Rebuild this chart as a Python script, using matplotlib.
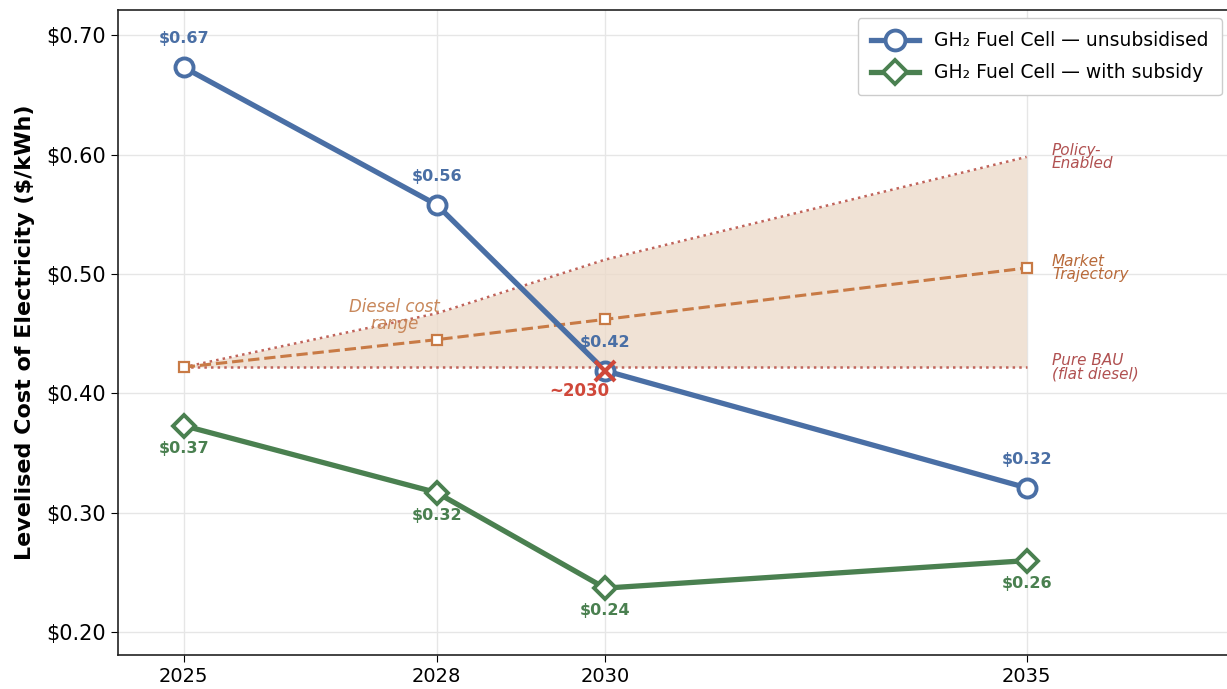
import matplotlib
matplotlib.use("Agg")
import matplotlib.pyplot as plt

years = [2025, 2028, 2030, 2035]
unsubsidised = [0.673, 0.558, 0.419, 0.321]
subsidised = [0.373, 0.317, 0.237, 0.260]
diesel_bau = [0.422, 0.422, 0.422, 0.422]
diesel_market = [0.422, 0.445, 0.462, 0.505]
diesel_policy = [0.422, 0.467, 0.512, 0.598]
unsub_labels = ["$0.67", "$0.56", "$0.42", "$0.32"]
sub_labels = ["$0.37", "$0.32", "$0.24", "$0.26"]
crossover_year = 2030
crossover_value = 0.419
yticks = [0.20, 0.30, 0.40, 0.50, 0.60, 0.70]

BLUE = "#4a6fa5"
GREEN = "#4a8050"
ORANGE = "#c87a45"
DRED = "#c0645a"
RED = "#d0483a"

fig = plt.figure(figsize=(12.27, 6.89), dpi=100)
ax = fig.add_axes([118/1227, 34/689, 1110/1227, 645/689])

ax.fill_between(years, diesel_bau, diesel_policy, color="#ecd9c8", alpha=0.75, lw=0, zorder=1)
ax.plot(years, diesel_policy, ls=":", color=DRED, lw=1.8, zorder=2)
ax.plot(years, diesel_bau, ls=":", color=DRED, lw=1.8, zorder=2)
ax.plot(years, diesel_market, ls="--", color=ORANGE, lw=2.2, marker="s", ms=7,
        mfc="white", mec=ORANGE, mew=1.6, zorder=3)

ax.plot(years, unsubsidised, color=BLUE, lw=3.8, marker="o", ms=13, mfc="white",
        mec=BLUE, mew=2.8, zorder=5, label="GH₂ Fuel Cell — unsubsidised")
ax.plot(years, subsidised, color=GREEN, lw=3.8, marker="D", ms=11, mfc="white",
        mec=GREEN, mew=2.8, zorder=5, label="GH₂ Fuel Cell — with subsidy")

for x, y, t in zip(years, unsubsidised, unsub_labels):
    ax.annotate(t, (x, y), xytext=(0, 15), textcoords="offset points", ha="center",
                va="bottom", color=BLUE, fontsize=11.5, fontweight="bold", zorder=6)
for x, y, t in zip(years, subsidised, sub_labels):
    ax.annotate(t, (x, y), xytext=(0, -11), textcoords="offset points", ha="center",
                va="top", color=GREEN, fontsize=11.5, fontweight="bold", zorder=6)

ax.plot([crossover_year], [crossover_value], marker="x", ms=14, mew=3, color=RED, zorder=7)
ax.annotate("~2030", (crossover_year, crossover_value), xytext=(3, -8),
            textcoords="offset points", ha="right", va="top", color=RED,
            fontsize=12, fontweight="bold", zorder=7)

ax.text(2035.3, diesel_policy[-1], "Policy-\nEnabled", color="#b05050", fontsize=11,
        style="italic", ha="left", va="center", linespacing=0.9)
ax.text(2035.3, diesel_market[-1], "Market\nTrajectory", color="#b86a3a", fontsize=11,
        style="italic", ha="left", va="center", linespacing=0.9)
ax.text(2035.3, diesel_bau[-1], "Pure BAU\n(flat diesel)", color="#b05050", fontsize=11,
        style="italic", ha="left", va="center", linespacing=0.9)
ax.text(2027.5, 0.465, "Diesel cost\nrange", color="#c8875a", fontsize=12,
        style="italic", ha="center", va="center", linespacing=0.9)

ax.set_xlim(2024.22, 2037.39)
ax.set_ylim(0.181, 0.721)
ax.set_xticks(years)
ax.set_xticklabels([str(y) for y in years])
ax.set_yticks(yticks)
ax.set_yticklabels([f"${v:.2f}" for v in yticks])
ax.tick_params(axis="x", labelsize=14, length=5)
ax.tick_params(axis="y", labelsize=15, length=5)
ax.grid(True, color="#e6e6e6", lw=1)
ax.set_axisbelow(True)
ax.set_ylabel("Levelised Cost of Electricity ($/kWh)", fontsize=16, fontweight="bold", labelpad=8)
for s in ax.spines.values():
    s.set_color("#222222")
    s.set_linewidth(1.2)

leg = ax.legend(loc="upper right", fontsize=13.5, frameon=True, framealpha=1,
                edgecolor="#cccccc", bbox_to_anchor=(0.9946, 0.9876), borderaxespad=0,
                handlelength=2.6, markerscale=1.1, borderpad=0.7, labelspacing=0.7)

fig.savefig("out.png", dpi=100)
